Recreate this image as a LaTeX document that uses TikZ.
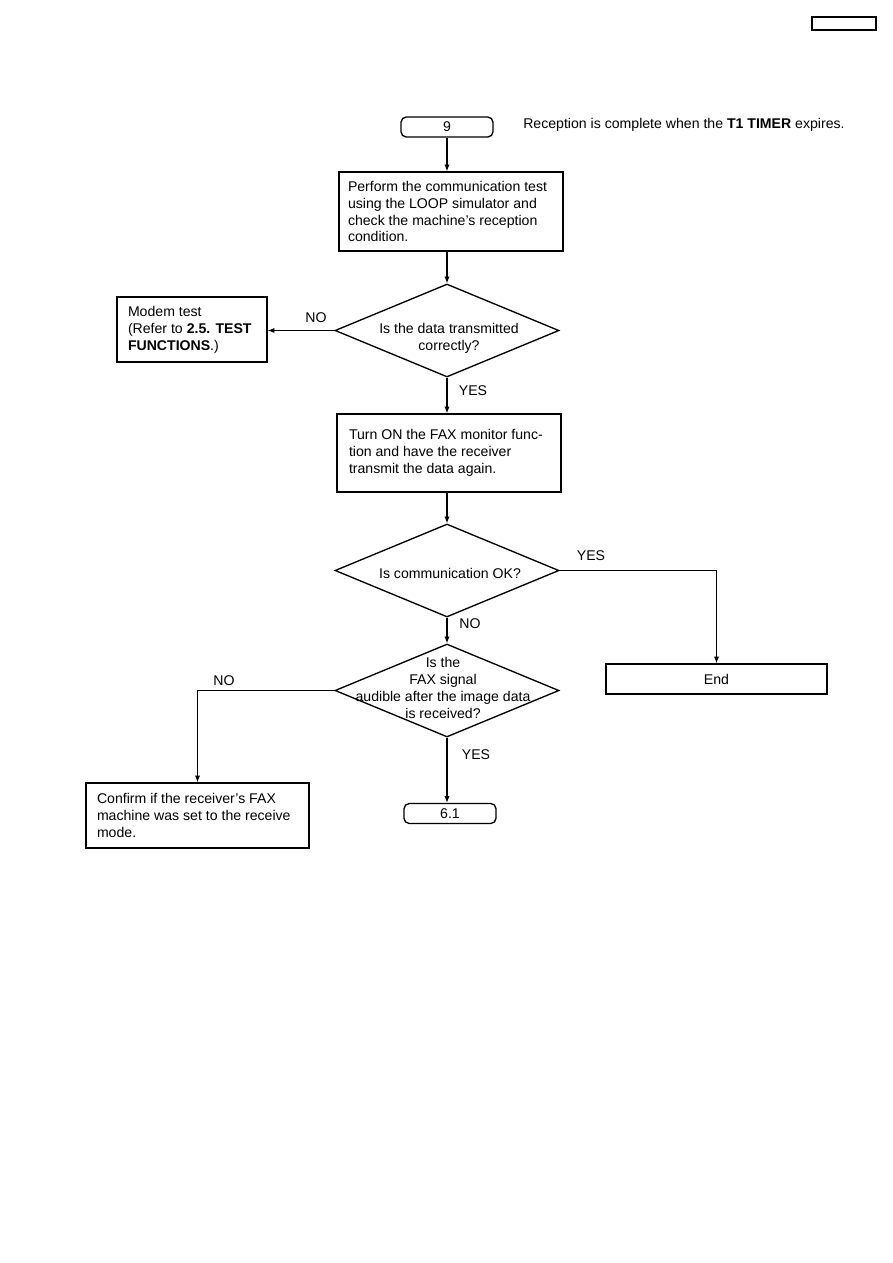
\documentclass[tikz,border=0pt]{standalone}
\usepackage{fontspec}
\setmainfont{Liberation Sans}
\usetikzlibrary{shapes.geometric,arrows.meta}
\newdimen\px \px=0.6667pt
\tikzset{
  txt/.style={font=\fontsize{9.4}{11.3}\selectfont},
  procbox/.style={txt, draw, line width=0.9pt, align=flush left, inner ysep=0pt},
  termbox/.style={txt, draw, line width=0.9pt, rounded corners=3.5pt, minimum width=92\px, minimum height=20\px, inner sep=0pt},
  decision/.style={draw, diamond, line width=0.9pt, minimum width=224\px, minimum height=93\px, inner sep=0pt},
  flow/.style={line width=0.75pt, -{Latex[length=4.5pt,width=3.5pt]}},
  lbl/.style={txt, inner sep=0pt},
}
\begin{document}
\begin{tikzpicture}[x=0.6667pt, y=-0.6667pt]
      \useasboundingbox (0,0) rectangle (893,1263);
      \draw[line width=1.2pt] (812,17) rectangle (876,30);

      \node[termbox] (start) at (447,127) {9};
      \node[lbl, anchor=west] (note) at (523,125) {Reception is complete when the \textbf{T1 TIMER} expires.};
      \node[procbox, text width=206\px, inner xsep=9\px, minimum height=79\px] (perform) at (451,211.5)
        {Perform the communication test\\using the LOOP simulator and\\check the machine's reception\\condition.};

      \node[decision] (dia1) at (447,330.5) {};
      \node[lbl, align=center] (q1) at (449,338.5) {Is the data transmitted\\correctly?};
      \node[procbox, text width=128\px, inner xsep=11\px, minimum height=65\px] (modem) at (192,329.5)
        {Modem test\\(Refer to \textbf{2.5. TEST}\\\textbf{FUNCTIONS}.)};
      \node[lbl] (no1) at (316,318) {NO};
      \node[lbl] (yes1) at (473,391) {YES};

      \node[procbox, text width=200\px, inner xsep=12\px, minimum height=78\px] (monitor) at (449,453)
        {Turn ON the FAX monitor func-\\tion and have the receiver\\transmit the data again.};

      \node[decision] (dia2) at (447,570.5) {};
      \node[lbl] (q2) at (450,573) {Is communication OK?};
      \node[lbl] (yes2) at (591,556) {YES};
      \node[lbl] (no2) at (470,624) {NO};
      \node[procbox, minimum width=221\px, minimum height=30\px] (finish) at (716.5,679) {End};

      \node[decision] (dia3) at (447,690.5) {};
      \node[lbl, align=center] (q3) at (443,688) {Is the\\FAX signal\\audible after the image data\\is received?};
      \node[lbl] (no3) at (224,681) {NO};
      \node[lbl] (yes3) at (476,755) {YES};
      \node[procbox, text width=201\px, inner xsep=11\px, minimum height=65\px] (confirm) at (197.5,815.5)
        {Confirm if the receiver's FAX\\machine was set to the receive\\mode.};
      \node[termbox] (goto61) at (450,813.5) {6.1};

      \draw[flow] (start) -- (start |- perform.north);
      \draw[flow] (dia1 |- perform.south) -- (dia1);
      \draw[flow] (dia1.west) -- (modem.east |- dia1.west);
      \draw[flow] (dia1) -- (dia1 |- monitor.north);
      \draw[flow] (dia2 |- monitor.south) -- (dia2);
      \draw[flow] (dia2.east) -| (finish.north);
      \draw[flow] (dia2) -- (dia3);
      \draw[flow] (dia3.west) -| (confirm.north);
      \draw[flow] (dia3) -- (dia3 |- goto61.north);
    \end{tikzpicture}
\end{document}
